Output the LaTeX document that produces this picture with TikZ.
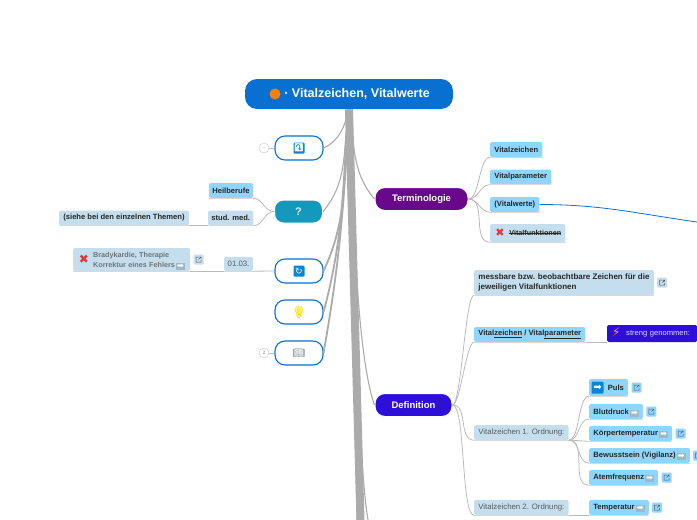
\documentclass[tikz,border=0pt]{standalone}
\usepackage{fontspec}
\usetikzlibrary{shapes,arrows,positioning}
\setmainfont{Liberation Sans}
\newfontfamily\symb{DejaVu Sans}
\newfontfamily\emoji{Noto Emoji}
\definecolor{rootblue}{rgb}{.03,.44,.82}
\definecolor{tabblue}{rgb}{.56,.84,1}
\definecolor{tabgrey}{rgb}{.77,.87,.93}
\definecolor{linegrey}{rgb}{.67,.67,.67}
\definecolor{sublinegrey}{rgb}{.73,.73,.73}
\definecolor{darkpurple}{rgb}{.41,.03,.54}
\definecolor{deepblue}{rgb}{.18,.06,.85}
\definecolor{teal2}{rgb}{.08,.6,.74}
\definecolor{textgrey}{rgb}{.34,.36,.38}
\definecolor{arrgrey}{rgb}{.62,.72,.78}
\definecolor{crossred}{rgb}{.9,.2,.22}
\def\Arr{\,\smash{\raisebox{-1.5pt}{\setlength{\fboxsep}{1pt}\colorbox{arrgrey}{\textcolor{white}{\symb\fontsize{8}{7}\selectfont ➡}}}}}
\def\Strike#1{\sbox0{#1}\rlap{\rule[1.9pt]{\wd0}{.35pt}}\usebox0}

\begin{document}
\begin{tikzpicture}[x=1pt,y=1pt,% pixel grid of the page, y runs downwards as negative
			every node/.style={
				align=center,
				inner sep=0pt,
				font=\fontsize{7.6}{10}\selectfont\bfseries
			},
			every edge/.style={draw=linegrey,line width=.8pt},
			tab/.style={
				anchor=west,fill=tabblue,rounded corners=1.5pt,inner xsep=4.2pt,minimum height=15pt,text=black!85,
				append after command={(\tikzlastnode.south west) edge[line width=.5pt,draw=black!15] (\tikzlastnode.south east)}
			},
			tabg/.style={tab,fill=tabgrey},
			plain/.style={tabg,text=textgrey,font=\fontsize{7.8}{10}\selectfont},
			topic/.style={rounded corners=10pt,minimum width=48pt,minimum height=24pt,draw=rootblue,line width=1.1pt,fill=white},
			main/.style={rounded corners=10pt,draw=white,line width=1pt,text=white,font=\fontsize{9.5}{11}\selectfont\bfseries,minimum height=23pt},
			icon/.style={fill=rootblue!85!cyan,rounded corners=1pt,minimum size=11pt,text=white,font=\fontsize{8}{8}\selectfont\symb},
			count/.style={circle,draw=black!20,line width=.5pt,fill=white,minimum size=10pt,text=black!45,font=\fontsize{5}{5}\selectfont},
			ext/.style={fill=tabblue,rounded corners=1pt,minimum size=10pt,path picture={
				\coordinate (c) at (path picture bounding box.center);
				\draw[shift={(c)},black!65,line width=.5pt,rounded corners=0pt] (.5,2.5) -- (-2.5,2.5) -- (-2.5,-2.5) -- (2.5,-2.5) -- (2.5,-.5) (0,0) -- (2.5,2.5) (1,2.5) -- (2.5,2.5) -- (2.5,1);
			}},
			trunk/.style={line width=8pt},
			bundle/.style={line width=1.8pt},
			branch/.style={line width=1.1pt},
			sub/.style={draw=sublinegrey,line width=.8pt}
		]
		\useasboundingbox (0,0) rectangle (697,-520);
		\coordinate (T1) at (360.5,-520);
		\coordinate (T2) at (368,-520);
		\coordinate (T3) at (357,-520);
		\coordinate (B1) at (697,-222);
		% centre
		\node[rounded corners=12pt,fill=rootblue,minimum width=208pt,minimum height=30pt,text=white,font=\fontsize{12.5}{14}\selectfont\bfseries](R0) at (349,-94){\hspace*{16pt}· Vitalzeichen, Vitalwerte};
		\node[circle,fill=orange,minimum size=11pt](R0i) at (275,-94){};
		% left side
		\node[topic](R1) at (299,-148){};
		\node[icon,font=\fontsize{8}{8}\selectfont\emoji](R1i) at (299,-148){⤵};
		\node[count](R1c) at (264,-148){...};
		\node[main,rounded corners=9pt,fill=teal2,minimum width=48pt,text=white!80!teal2,font=\fontsize{11}{11}\selectfont\bfseries](R2) at (298.5,-211.5){?};
		\node[tab,inner xsep=3.2pt](R3) at (209,-190.5){Heilberufe};
		\node[tabg,inner xsep=3.2pt](R4) at (208,-218){stud. med.};
		\node[tabg](R5) at (59,-218){(siehe bei den einzelnen Themen)};
		\node[topic](R6) at (299,-271){};
		\node[icon,font=\fontsize{9}{9}\selectfont\symb](R6i) at (299,-271){↻};
		\node[plain,minimum height=14pt,inner xsep=3.5pt](R7) at (224,-264){01.03.};
		\node[plain,minimum height=23pt,inner xsep=0pt,text width=117pt,align=left,font=\fontsize{7.2}{10}\selectfont\bfseries,text=black!55](R8) at (73,-259.5){\hspace*{20pt}Bradykardie, Therapie\\\hspace*{20pt}Korrektur eines Fehlers\Arr};
		\node[text=crossred,font=\fontsize{12}{12}\selectfont\symb](R8i) at (84,-259.5){✖};
		\node[ext,fill=tabgrey](R8e)[right=3pt of R8]{};
		\node[topic](R9) at (299,-312){};
		\node[circle,fill=yellow!55,minimum size=8.5pt](R9b) at (299,-310.5){};
		\node[text=yellow!70!orange,font=\fontsize{12}{12}\selectfont\emoji](R9i) at (299,-312){💡};
		\node[topic](R10) at (299,-353){};
		\node[text=black!30!arrgrey,font=\fontsize{10}{10}\selectfont\emoji](R10i) at (299,-353){📖};
		\node[count](R10c) at (264,-353){2};
		% Terminologie
		\node[main,fill=darkpurple,minimum width=93pt](R11) at (421.5,-199){Terminologie};
		\node[tab](R12) at (490,-149.5){Vitalzeichen};
		\node[tab](R13) at (490,-177){Vitalparameter};
		\node[tab](R14) at (490,-204.5){(Vitalwerte)};
		\node[tabg,minimum height=18pt,font=\fontsize{7.2}{9}\selectfont\bfseries](R15) at (490,-233){\hspace*{15pt}\Strike{Vitalfunktionen}};
		\node[text=crossred,font=\fontsize{11}{11}\selectfont\symb](R15i) at (500,-233){✖};
		% Definition
		\node[main,fill=deepblue,minimum width=77pt](R16) at (413.5,-405){Definition};
		\node[tabg,align=left,minimum height=25pt,font=\fontsize{8}{10}\selectfont\bfseries](R17) at (474,-282.5){messbare bzw. beobachtbare Zeichen für die\\jeweiligen Vitalfunktionen};
		\node[ext,fill=tabgrey](R17e)[right=3pt of R17]{};
		\node[tab](R18) at (474,-334.5){Vital\underline{zeichen} / Vital\underline{parameter}};
		\node[anchor=west,fill=deepblue,rounded corners=1.5pt,minimum width=90pt,minimum height=17pt,text width=80pt,align=left,text=white!85!deepblue,font=\fontsize{7.6}{9}\selectfont](R19) at (607,-333.5){\makebox[14pt][l]{\smash{\raisebox{-1.5pt}{\symb\fontsize{12}{9}\selectfont\color{orange!70!yellow}⚡}}}streng genommen:};
		\node[plain](R20) at (474,-432.5){Vitalzeichen 1. Ordnung:};
		\node[plain](R21) at (474,-507.5){Vitalzeichen 2. Ordnung:};
		\node[tab,minimum height=17pt,align=left](R22) at (589,-387.5){\hspace*{14.5pt}Puls};
		\node[icon,minimum size=12pt,font=\fontsize{10}{10}\selectfont\symb](R22i) at (597.5,-387.5){➡};
		\node[ext](R22e)[right=3pt of R22]{};
		\node[tab](R23) at (589,-411.5){Blutdruck\Arr};
		\node[ext](R23e)[right=3pt of R23]{};
		\node[tab](R24) at (589,-433.5){Körpertemperatur\Arr};
		\node[ext](R24e)[right=3pt of R24]{};
		\node[tab](R25) at (589,-455.5){Bewusstsein (Vigilanz)\Arr};
		\node[ext](R25e)[right=3pt of R25]{};
		\node[tab](R26) at (589,-477.5){Atemfrequenz\Arr};
		\node[ext](R26e)[right=3pt of R26]{};
		\node[tab](R27) at (589,-507.5){Temperatur\Arr};
		\node[ext](R27e)[right=3pt of R27]{};
		\path
		(R1c)edge [line width=.5pt,draw=black!25] (R1)
		(R10c)edge [line width=.5pt,draw=black!25] (R10)
		(R2.west)edge [out=180,in=0,sub] (R3.south east)
		(R2.west)edge [out=180,in=0,sub] (R4.south east)
		(R4.south west)edge [sub] (R5.south east)
		(R6.west)edge [sub] (R7.south east)
		(R7.south west)edge [sub] (R8.south east)
		(R11.east)edge [out=0,in=180,looseness=.6,sub] (R12.south west)
		(R11.east)edge [out=0,in=180,sub] (R13.south west)
		(R11.east)edge [out=0,in=180,sub] (R14.south west)
		(R11.east)edge [out=0,in=180,sub] (R15.south west)
		(R16.east)edge [out=0,in=180,looseness=.2,sub] (R17.south west)
		(R16.east)edge [out=0,in=180,looseness=.3,sub] (R18.south west)
		(R16.east)edge [out=0,in=180,sub] (R20.south west)
		(R16.east)edge [out=0,in=180,looseness=.3,sub] (R21.south west)
		(R18.south east)edge [sub] (R19.south west)
		(R20.south east)edge [out=0,in=180,looseness=.6,sub] (R22.south west)
		(R20.south east)edge [out=0,in=180,sub] (R23.south west)
		(R20.south east)edge [out=0,in=180,sub] (R24.south west)
		(R20.south east)edge [out=0,in=180,sub] (R25.south west)
		(R20.south east)edge [out=0,in=180,sub] (R26.south west)
		(R21.south east)edge [sub] (R27.south west)
		(R14.east)edge [out=0,in=172,draw=rootblue,line width=.8pt] (B1)
		(R0.south)edge [trunk] (T1)
		(R0.south)edge [out=-88,in=100,looseness=.4,branch] (T2)
		(R0.south)edge [branch] (T3)
		(R0.south)edge [out=-105,in=25,branch] (R1.east)
		(R0.south)edge [out=-100,in=50,branch] (R2.east)
		(R0.south)edge [out=-97,in=65,bundle] (R6.east)
		(R0.south)edge [out=-95,in=75,bundle] (R9.east)
		(R0.south)edge [out=-93,in=80,bundle] (R10.east)
		(R0.south)edge [out=-80,in=130,branch] (R11.west)
		(R0.south)edge [out=-87,in=110,looseness=.5,branch] (R16.west)
		;
	\end{tikzpicture}
\end{document}
